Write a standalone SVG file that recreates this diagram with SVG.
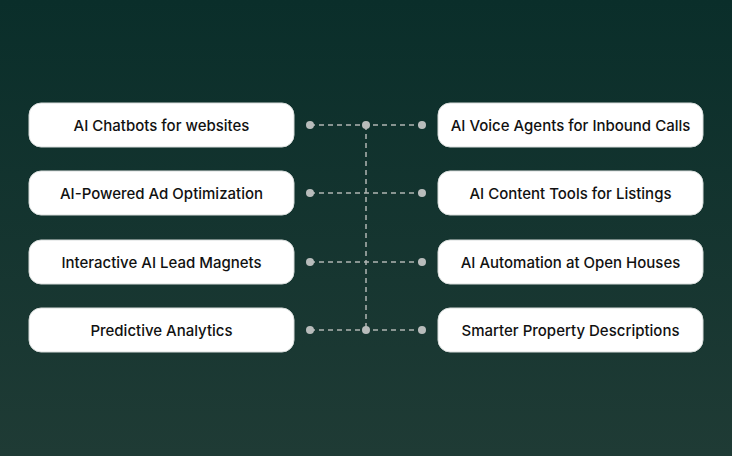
<svg xmlns="http://www.w3.org/2000/svg" width="732" height="456" viewBox="0 0 732 456">
<defs>
<linearGradient id="bg" x1="0" y1="0" x2="0" y2="1">
<stop offset="0" stop-color="#0a2e2a"/>
<stop offset="1" stop-color="#1f3b35"/>
</linearGradient>
<style>
.box{fill:#fff;stroke:#d8dcdb;stroke-width:1}
.t{font-family:Inter,"Liberation Sans",sans-serif;font-size:15px;font-weight:500;fill:#111;text-anchor:middle;dominant-baseline:central}
.ln{stroke:#b0b5b3;stroke-width:1.5;stroke-dasharray:5 4;fill:none}
.d{fill:#b8bcbb}
</style>
</defs>
<rect width="732" height="456" fill="url(#bg)"/>
<g id="connectors">
<path class="ln" d="M310 125H422M310 193H422M310 262H422M310 330H422M366 125V330"/>
<circle class="d" cx="310" cy="125" r="4"/><circle class="d" cx="366" cy="125" r="4"/><circle class="d" cx="422" cy="125" r="4"/>
<circle class="d" cx="310" cy="193" r="4"/><circle class="d" cx="422" cy="193" r="4"/>
<circle class="d" cx="310" cy="262" r="4"/><circle class="d" cx="422" cy="262" r="4"/>
<circle class="d" cx="310" cy="330" r="4"/><circle class="d" cx="366" cy="330" r="4"/><circle class="d" cx="422" cy="330" r="4"/>
</g>
<g id="l1"><rect class="box" x="29" y="103" width="265" height="44" rx="12"/><text class="t" x="161.5" y="125">AI Chatbots for websites</text></g>
<g id="l2"><rect class="box" x="29" y="171" width="265" height="44" rx="12"/><text class="t" x="161.5" y="193">AI-Powered Ad Optimization</text></g>
<g id="l3"><rect class="box" x="29" y="240" width="265" height="44" rx="12"/><text class="t" x="161.5" y="262">Interactive AI Lead Magnets</text></g>
<g id="l4"><rect class="box" x="29" y="308" width="265" height="44" rx="12"/><text class="t" x="161.5" y="330">Predictive Analytics</text></g>
<g id="r1"><rect class="box" x="438" y="103" width="265" height="44" rx="12"/><text class="t" x="570.5" y="125">AI Voice Agents for Inbound Calls</text></g>
<g id="r2"><rect class="box" x="438" y="171" width="265" height="44" rx="12"/><text class="t" x="570.5" y="193">AI Content Tools for Listings</text></g>
<g id="r3"><rect class="box" x="438" y="240" width="265" height="44" rx="12"/><text class="t" x="570.5" y="262">AI Automation at Open Houses</text></g>
<g id="r4"><rect class="box" x="438" y="308" width="265" height="44" rx="12"/><text class="t" x="570.5" y="330">Smarter Property Descriptions</text></g>
</svg>
